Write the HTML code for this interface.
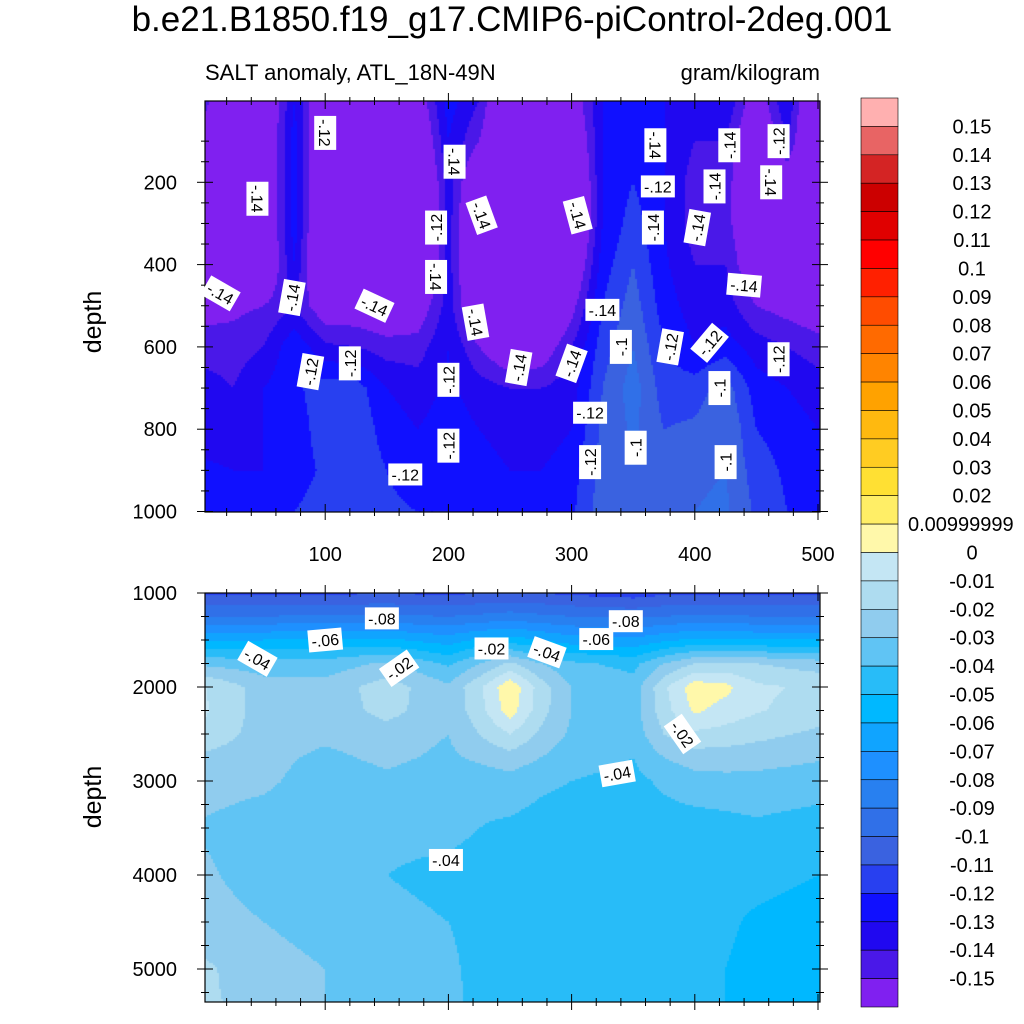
<!DOCTYPE html>
<html><head><meta charset="utf-8"><style>
body{margin:0;background:#fff;width:1024px;height:1024px;position:relative;overflow:hidden;font-family:"Liberation Sans",sans-serif}
.t{position:absolute;white-space:nowrap;color:#000}
canvas{position:absolute}
</style></head><body>
<div class="t" style="left:0;width:1024px;text-align:center;top:0px;font-size:35px">b.e21.B1850.f19_g17.CMIP6-piControl-2deg.001</div>
<div class="t" style="left:205px;top:60px;font-size:22px">SALT anomaly, ATL_18N-49N</div>
<div class="t" style="right:204px;top:60px;font-size:22px">gram/kilogram</div>
<canvas id="c1" width="615" height="411" style="left:205px;top:101px"></canvas>
<canvas id="c2" width="615" height="409" style="left:205px;top:593px"></canvas>
<svg id="ov" width="1024" height="1024" style="position:absolute;left:0;top:0"></svg>
<script>
const levels=[-0.15,-0.14,-0.13,-0.12,-0.11,-0.1,-0.09,-0.08,-0.07,-0.06,-0.05,-0.04,-0.03,-0.02,-0.01,0,0.01,0.02,0.03,0.04,0.05,0.06,0.07,0.08,0.09,0.1,0.11,0.12,0.13,0.14,0.15];
const colors=["#8020F0","#4A18E8","#2008F0","#1010FF","#2840F0","#3A62E0","#3070E8","#2880F0","#1E90FF","#10A4FF","#00B8FF","#28BCF8","#60C4F4","#90CCEE","#AEDCF0","#C4E6F4","#FFF8AA","#FFEE66","#FFE033","#FFCC22","#FFB90F","#FFA200","#FF8400","#FF6A00","#FF4C00","#FF2000","#FF0000","#E00000","#CC0000","#D42424","#E86464","#FFB0B0"];
const cbLabels=["0.15","0.14","0.13","0.12","0.11","0.1","0.09","0.08","0.07","0.06","0.05","0.04","0.03","0.02","0.00999999","0","-0.01","-0.02","-0.03","-0.04","-0.05","-0.06","-0.07","-0.08","-0.09","-0.1","-0.11","-0.12","-0.13","-0.14","-0.15"];
const upTimes=[0,25,50,75,100,125,150,175,200,225,250,275,300,325,350,375,400,425,450,475,500];
const upDepths=[0,100,200,300,400,500,600,700,800,900,1000];
const upVals=[
[-0.14,-0.16,-0.17,-0.17,-0.17,-0.155,-0.145,-0.135,-0.135,-0.128,-0.125],
[-0.18,-0.18,-0.18,-0.18,-0.18,-0.153,-0.145,-0.14,-0.135,-0.13,-0.128],
[-0.17,-0.17,-0.17,-0.17,-0.17,-0.15,-0.14,-0.13,-0.13,-0.13,-0.125],
[-0.13,-0.125,-0.125,-0.125,-0.13,-0.14,-0.122,-0.122,-0.125,-0.125,-0.12],
[-0.17,-0.18,-0.18,-0.18,-0.18,-0.16,-0.138,-0.115,-0.115,-0.118,-0.115],
[-0.18,-0.18,-0.18,-0.18,-0.18,-0.16,-0.14,-0.115,-0.112,-0.112,-0.112],
[-0.18,-0.18,-0.18,-0.18,-0.18,-0.165,-0.145,-0.13,-0.125,-0.12,-0.118],
[-0.16,-0.17,-0.18,-0.18,-0.18,-0.16,-0.145,-0.135,-0.13,-0.125,-0.12],
[-0.125,-0.13,-0.135,-0.135,-0.135,-0.135,-0.13,-0.128,-0.125,-0.122,-0.12],
[-0.14,-0.15,-0.17,-0.18,-0.18,-0.17,-0.15,-0.135,-0.13,-0.125,-0.122],
[-0.18,-0.18,-0.18,-0.18,-0.18,-0.18,-0.165,-0.14,-0.135,-0.13,-0.125],
[-0.18,-0.18,-0.18,-0.18,-0.18,-0.18,-0.16,-0.14,-0.135,-0.13,-0.125],
[-0.16,-0.17,-0.18,-0.18,-0.17,-0.155,-0.14,-0.135,-0.13,-0.125,-0.122],
[-0.13,-0.13,-0.13,-0.13,-0.125,-0.12,-0.115,-0.11,-0.108,-0.105,-0.105],
[-0.12,-0.125,-0.12,-0.115,-0.11,-0.105,-0.1,-0.095,-0.098,-0.1,-0.1],
[-0.13,-0.13,-0.13,-0.13,-0.128,-0.125,-0.12,-0.115,-0.11,-0.108,-0.105],
[-0.135,-0.14,-0.145,-0.145,-0.14,-0.135,-0.13,-0.115,-0.108,-0.102,-0.1],
[-0.13,-0.14,-0.145,-0.145,-0.14,-0.135,-0.125,-0.105,-0.1,-0.1,-0.098],
[-0.16,-0.17,-0.17,-0.17,-0.165,-0.15,-0.135,-0.125,-0.12,-0.115,-0.112],
[-0.13,-0.14,-0.16,-0.17,-0.17,-0.155,-0.14,-0.13,-0.125,-0.122,-0.12],
[-0.18,-0.18,-0.18,-0.18,-0.18,-0.16,-0.145,-0.135,-0.13,-0.125,-0.12]];
const loTimes=[0,50,100,150,200,225,250,275,300,350,375,400,425,450,500];
const loDepths=[1000,1250,1500,1750,2000,2250,2500,2750,3000,3500,4000,4500,5000,5350];
const loVals=[
[-0.112,-0.09,-0.062,-0.032,-0.009,-0.008,-0.012,-0.022,-0.026,-0.031,-0.028,-0.025,-0.018,-0.018],
[-0.112,-0.09,-0.06,-0.036,-0.025,-0.025,-0.025,-0.027,-0.028,-0.035,-0.035,-0.03,-0.026,-0.024],
[-0.112,-0.088,-0.058,-0.036,-0.026,-0.027,-0.028,-0.032,-0.035,-0.038,-0.038,-0.034,-0.03,-0.03],
[-0.11,-0.088,-0.058,-0.028,-0.015,-0.016,-0.025,-0.028,-0.032,-0.038,-0.04,-0.038,-0.035,-0.035],
[-0.112,-0.09,-0.065,-0.042,-0.028,-0.028,-0.03,-0.032,-0.035,-0.038,-0.042,-0.04,-0.038,-0.037],
[-0.11,-0.088,-0.058,-0.03,-0.012,-0.014,-0.02,-0.028,-0.036,-0.04,-0.043,-0.043,-0.043,-0.043],
[-0.11,-0.085,-0.055,-0.018,0.008,0.005,-0.01,-0.024,-0.034,-0.042,-0.045,-0.045,-0.045,-0.044],
[-0.11,-0.088,-0.06,-0.03,-0.015,-0.016,-0.022,-0.03,-0.038,-0.044,-0.045,-0.045,-0.045,-0.045],
[-0.112,-0.09,-0.065,-0.038,-0.03,-0.03,-0.032,-0.036,-0.04,-0.045,-0.045,-0.046,-0.046,-0.046],
[-0.115,-0.092,-0.068,-0.043,-0.036,-0.035,-0.036,-0.04,-0.043,-0.045,-0.047,-0.048,-0.048,-0.048],
[-0.112,-0.09,-0.062,-0.03,-0.012,-0.014,-0.02,-0.03,-0.038,-0.045,-0.048,-0.048,-0.048,-0.048],
[-0.112,-0.088,-0.058,-0.02,0.006,0.002,-0.012,-0.025,-0.034,-0.045,-0.048,-0.048,-0.048,-0.049],
[-0.112,-0.088,-0.058,-0.018,0.003,-0.004,-0.014,-0.025,-0.033,-0.044,-0.048,-0.049,-0.05,-0.05],
[-0.112,-0.09,-0.06,-0.02,-0.008,-0.009,-0.017,-0.026,-0.033,-0.042,-0.048,-0.051,-0.052,-0.052],
[-0.112,-0.09,-0.06,-0.025,-0.012,-0.015,-0.022,-0.029,-0.035,-0.045,-0.05,-0.053,-0.053,-0.053]];

function colorOf(v){let i=0;while(i<levels.length&&v>=levels[i])i++;return colors[i];}
function interp(ts,ds,M,t,d){
  let i=0;while(i<ts.length-2&&t>ts[i+1])i++;
  let j=0;while(j<ds.length-2&&d>ds[j+1])j++;
  const fx=Math.max(0,Math.min(1,(t-ts[i])/(ts[i+1]-ts[i])));
  const fy=Math.max(0,Math.min(1,(d-ds[j])/(ds[j+1]-ds[j])));
  const a=M[i][j]*(1-fx)+M[i+1][j]*fx, b=M[i][j+1]*(1-fx)+M[i+1][j+1]*fx;
  return a*(1-fy)+b*fy;
}
const xT=px=>(px-202)/1.232;
function render(id,left,top,w,h,ts,ds,M,depthOfY){
  const ctx=document.getElementById(id).getContext('2d');
  const s=2;
  for(let y=0;y<h;y+=s)for(let x=0;x<w;x+=s){
    const v=interp(ts,ds,M,xT(left+x+1),depthOfY(top+y+1));
    ctx.fillStyle=colorOf(v);ctx.fillRect(x,y,s,s);
  }
}
const upY=d=>100+d*0.4115, upD=y=>(y-100)/0.4115;
const loY=d=>593+(d-1000)*0.094, loD=y=>1000+(y-593)/0.094;
render('c1',205,101,615,411,upTimes,upDepths,upVals,upD);
render('c2',205,593,615,409,loTimes,loDepths,loVals,loD);

const NS='http://www.w3.org/2000/svg',ov=document.getElementById('ov');
function el(tag,attrs,txt){const e=document.createElementNS(NS,tag);for(const k in attrs)e.setAttribute(k,attrs[k]);if(txt!==undefined)e.textContent=txt;ov.appendChild(e);return e;}
function frame(x0,y0,x1,y1,name){
  const r=el('rect',{x:x0,y:y0,width:x1-x0,height:y1-y0,fill:'none',stroke:'#000','stroke-width':1.2});
  
  
}
frame(205,101,820,512,'upper-plot-frame');
frame(205,593,820,1002,'lower-plot-frame');
const X=t=>202+1.232*t;
for(let t=20;t<=500;t+=20){
  const x=X(t),maj=t%100===0,L=maj?8:4;
  for(const [a,b] of [[101,512],[593,1002]]){
    el('line',{x1:x,x2:x,y1:a,y2:a+L,stroke:'#000'});el('line',{x1:x,x2:x,y1:b,y2:b-L,stroke:'#000'});
    el('line',{x1:x,x2:x,y1:b,y2:b+L,stroke:'#000'});el('line',{x1:x,x2:x,y1:a,y2:a-L,stroke:'#000'});
  }
  if(maj){const tx=el('text',{x:x,y:561,'font-size':20,'text-anchor':'middle','font-family':'Liberation Sans'},String(t));
    
    }
}
for(let d=100;d<=1000;d+=50){const y=upY(d),maj=d%200===0,L=maj?8:4;
  el('line',{x1:205,x2:205+L,y1:y,y2:y,stroke:'#000'});el('line',{x1:820,x2:820-L,y1:y,y2:y,stroke:'#000'});
  el('line',{x1:205,x2:205-L,y1:y,y2:y,stroke:'#000'});el('line',{x1:820,x2:820+L,y1:y,y2:y,stroke:'#000'});
  if(maj){const tx=el('text',{x:177,y:y+7,'font-size':20,'text-anchor':'end','font-family':'Liberation Sans'},String(d));
    
    }
}
for(let d=1000;d<=5300;d+=250){const y=loY(d),maj=d%1000===0,L=maj?8:4;
  el('line',{x1:205,x2:205+L,y1:y,y2:y,stroke:'#000'});el('line',{x1:820,x2:820-L,y1:y,y2:y,stroke:'#000'});
  el('line',{x1:205,x2:205-L,y1:y,y2:y,stroke:'#000'});el('line',{x1:820,x2:820+L,y1:y,y2:y,stroke:'#000'});
  if(maj){const tx=el('text',{x:177,y:y+7,'font-size':20,'text-anchor':'end','font-family':'Liberation Sans'},String(d));
    
    }
}
for(const [cy,n] of [[322,'upper-y-axis-title'],[797,'lower-y-axis-title']]){
  const tx=el('text',{x:0,y:0,'font-size':25,'text-anchor':'middle','font-family':'Liberation Sans',transform:`translate(101,${cy}) rotate(-90)`},'depth');
  
  
}
const cbTop=98,cbH=909/32;
for(let i=0;i<32;i++){
  const r=el('rect',{x:861,y:cbTop+i*cbH,width:37,height:cbH,fill:colors[31-i],stroke:'#000','stroke-width':0.6});
  
  
}
cbLabels.forEach((s,i)=>{
  const tx=el('text',{x:s.length>8?908:972,y:cbTop+(i+1)*cbH+7,'font-size':20,'text-anchor':s.length>8?'start':'middle','font-family':'Liberation Sans'},s);
  
  
});
const labUp=[["-.12",100,80,90],["-.14",45,240,90],["-.14",15,470,30],["-.14",73,480,-80],["-.14",140,500,25],["-.12",88,660,-80],["-.12",120,640,-90],["-.14",205,150,90],["-.12",190,310,-90],["-.14",190,430,90],["-.14",227,280,70],["-.14",222,540,80],["-.12",200,680,-90],["-.12",200,840,-90],["-.12",165,910,0],["-.14",257,650,-80],["-.14",300,640,-70],["-.14",305,280,75],["-.14",325,510,0],["-.1",340,600,-90],["-.12",315,760,0],["-.12",315,880,-90],["-.1",352,845,-90],["-.14",366,310,-90],["-.12",370,210,0],["-.12",380,600,-80],["-.14",368,110,90],["-.14",416,210,-90],["-.14",402,310,-80],["-.12",412,590,-50],["-.1",420,700,-90],["-.1",425,880,-90],["-.14",428,110,-90],["-.14",440,450,5],["-.14",462,200,90],["-.12",468,100,-90],["-.12",468,630,-90]];
for(const [s,t,d,rot] of labUp){
  const x=X(t),y=upY(d),g=el('g',{transform:`translate(${x},${y}) rotate(${rot})`});
  
  
  const r=document.createElementNS(NS,'rect');r.setAttribute('x',-17);r.setAttribute('y',-11);r.setAttribute('width',34);r.setAttribute('height',22);r.setAttribute('fill','#fff');g.appendChild(r);
  const tx=document.createElementNS(NS,'text');tx.setAttribute('y',6);tx.setAttribute('text-anchor','middle');tx.setAttribute('font-size',16);tx.setAttribute('font-family','Liberation Sans');tx.textContent=s;g.appendChild(tx);
}
const labLo=[["-.04",45,1700,30],["-.06",100,1500,-5],["-.08",146,1270,0],["-.02",160,1800,-35],["-.02",235,1590,0],["-.04",280,1630,20],["-.06",320,1490,0],["-.08",344,1300,0],["-.02",390,2500,55],["-.04",337,2920,-10],["-.04",198,3840,0]];
for(const [s,t,d,rot] of labLo){
  const x=X(t),y=loY(d),g=el('g',{transform:`translate(${x},${y}) rotate(${rot})`});
  
  
  const r=document.createElementNS(NS,'rect');r.setAttribute('x',-17);r.setAttribute('y',-11);r.setAttribute('width',34);r.setAttribute('height',22);r.setAttribute('fill','#fff');g.appendChild(r);
  const tx=document.createElementNS(NS,'text');tx.setAttribute('y',6);tx.setAttribute('text-anchor','middle');tx.setAttribute('font-size',16);tx.setAttribute('font-family','Liberation Sans');tx.textContent=s;g.appendChild(tx);
}
</script>
</body></html>
